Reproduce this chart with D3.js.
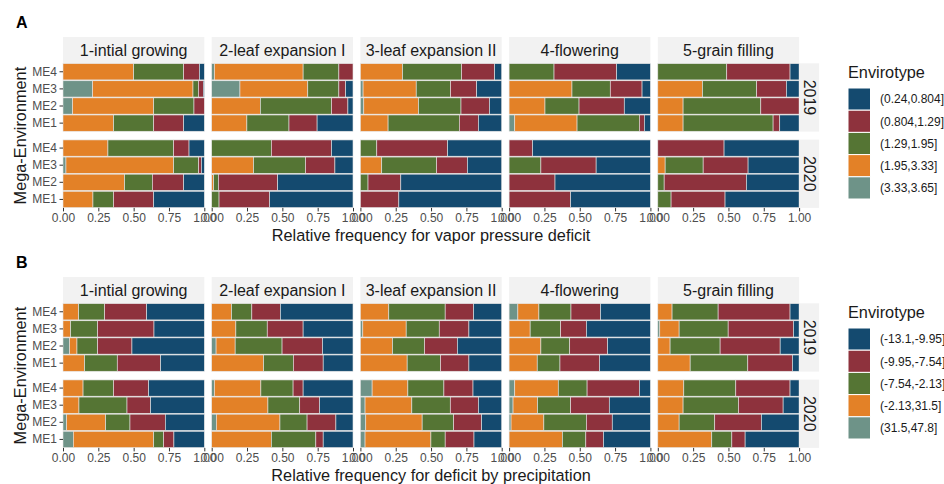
<!DOCTYPE html>
<html>
<head>
<meta charset="utf-8">
<script src="https://cdn.jsdelivr.net/npm/d3@7"></script>
<style>
  body { margin: 0; background: #fff; }
  text { font-family: "Liberation Sans", Arial, sans-serif; }
</style>
</head>
<body>
<svg id="chart" width="944" height="484"></svg>
<script>
(function () {

    const stages = ["1-intial growing", "2-leaf expansion I", "3-leaf expansion II", "4-flowering", "5-grain filling"];
    const years = ["2019", "2020"];
    const envs = ["ME1", "ME2", "ME3", "ME4"];
    const ticks = [0, 0.25, 0.5, 0.75, 1];

    // classes left -> right in each bar (legend shows them reversed)
    const vpdClasses = ["(3.33,3.65]", "(1.95,3.33]", "(1.29,1.95]", "(0.804,1.29]", "(0.24,0.804]"];
    const precClasses = ["(31.5,47.8]", "(-2.13,31.5]", "(-7.54,-2.13]", "(-9.95,-7.54]", "(-13.1,-9.95]"];
    const colors = ["#6E9388", "#E38127", "#557534", "#8E323D", "#144A6F"];

    // stage -> [ME1, ME2, ME3, ME4] -> class proportions (left to right)
    const vpd2019 = [
        [[0, .358, .284, .212, .146], [.068, .574, .285, .073, 0], [.21, .71, .038, .035, .007], [0, .50, .354, .111, .035]],
        [[0, .249, .298, .199, .254], [0, .344, .504, .116, .036], [.20, .48, .22, .048, .052], [.019, .628, .253, .10, 0]],
        [[0, .196, .504, .135, .165], [.024, .387, .301, .201, .087], [.019, .376, .243, .185, .177], [0, .298, .418, .234, .05]],
        [[.04, .441, .441, .035, .043], [0, .254, .241, .32, .185], [0, .445, .271, .225, .059], [0, 0, .318, .443, .239]],
        [[0, .179, .637, .047, .137], [0, .179, .55, .271, 0], [0, .316, .384, .21, .09], [0, 0, .488, .448, .064]]
    ];
    const vpd2020 = [
        [[0, .212, .146, .284, .358], [0, .436, .196, .222, .146], [.021, .762, .177, .019, .021], [0, .318, .465, .109, .108]],
        [[0, 0, .052, .358, .59], [0, .014, .033, .42, .533], [0, .296, .368, .208, .128], [0, 0, .422, .426, .152]],
        [[0, 0, 0, .272, .728], [0, 0, .054, .232, .714], [0, .151, .388, .218, .243], [0, 0, .116, .501, .383]],
        [[0, 0, 0, .436, .564], [0, 0, 0, .325, .675], [0, 0, .225, .391, .384], [0, 0, 0, .166, .834]],
        [[0, 0, .094, .382, .524], [0, 0, .045, .582, .373], [0, .052, .269, .318, .361], [0, 0, 0, .469, .531]]
    ];
    const prec2019 = [
        [[0, .153, .231, .307, .309], [.047, .052, .146, .243, .512], [0, .054, .191, .399, .356], [0, .111, .184, .297, .408]],
        [[0, .367, .211, .211, .211], [.031, .135, .332, .286, .216], [0, .171, .222, .254, .353], [0, .14, .144, .202, .514]],
        [[0, .331, .236, .201, .232], [0, .227, .227, .232, .314], [.017, .307, .234, .21, .232], [0, .201, .399, .201, .199]],
        [[0, .199, .161, .28, .36], [0, .225, .204, .268, .303], [0, .149, .216, .182, .453], [.062, .149, .227, .209, .353]],
        [[0, .229, .408, .316, .047], [0, .087, .354, .425, .134], [.014, .137, .347, .462, .04], [0, .101, .326, .509, .064]]
    ];
    const prec2020 = [
        [[.073, .569, .07, .073, .215], [.026, .276, .172, .25, .276], [0, .113, .34, .167, .38], [0, .142, .216, .248, .394]],
        [[0, .422, .315, .052, .211], [.033, .45, .192, .204, .121], [0, .398, .225, .14, .237], [.019, .329, .228, .071, .353]],
        [[.033, .466, .101, .204, .196], [.038, .399, .223, .198, .142], [.033, .331, .272, .199, .165], [.083, .253, .255, .206, .203]],
        [[0, .377, .166, .125, .332], [.014, .232, .301, .183, .27], [.028, .173, .235, .273, .291], [.04, .308, .204, .37, .078]],
        [[0, .382, .142, .094, .382], [0, .151, .252, .33, .267], [0, .179, .392, .316, .113], [0, .184, .368, .384, .064]]
    ];

    const svg = d3.select('#chart');

    const left = 63;
    const panelW = 141.3;
    const gapX = 7.4;
    const stripH = 26.3;
    const rowH = 68.3;
    const gapY = 8;

    const x = d3.scaleLinear().domain([0, 1]).range([0, panelW]);
    const y = d3.scaleBand().domain(["ME4", "ME3", "ME2", "ME1"]).range([0, rowH]).paddingInner(0.05).paddingOuter(0.02);
    const color = d3.scaleOrdinal().domain(d3.range(5)).range(colors);

    function drawBlock(top, letter, classes, byYear, xTitle) {
        const g = svg.append('g');

        g.append('text').attr('x', 16).attr('y', top - 9)
            .attr('font-size', 16).attr('font-weight', 'bold').text(letter);

        const rowTop = yr => top + stripH + yr * (rowH + gapY);
        const colLeft = s => left + s * (panelW + gapX);

        stages.forEach((stage, s) => {
            const cx = colLeft(s);
            g.append('rect').attr('x', cx).attr('y', top).attr('width', panelW).attr('height', stripH).attr('fill', '#F2F2F2');
            g.append('text').attr('x', cx + panelW / 2).attr('y', top + stripH / 2 + 5.5)
                .attr('text-anchor', 'middle').attr('font-size', 16).attr('fill', '#1A1A1A').text(stage);

            byYear.forEach((data, yr) => {
                const panel = g.append('g').attr('transform', `translate(${cx},${rowTop(yr)})`);
                envs.forEach((me, m) => {
                    const vals = data[s][m];
                    const ends = d3.cumsum(vals);
                    const segs = vals.map((v, k) => ({ k, x0: ends[k] - v, x1: ends[k] })).filter(d => d.x1 - d.x0 > 0);
                    panel.selectAll(null)
                        .data(segs)
                        .enter()
                        .append('rect')
                        .attr('x', d => x(d.x0))
                        .attr('width', d => x(Math.min(d.x1, 1)) - x(d.x0))
                        .attr('y', y(me))
                        .attr('height', y.bandwidth())
                        .attr('fill', d => color(d.k))
                        .attr('stroke', '#E4E4E4')
                        .attr('stroke-width', 0.6);
                });

                if (s === 0) {
                    const ya = panel.append('g').call(d3.axisLeft(y).tickSize(3.5).tickPadding(2.5));
                    ya.select('.domain').remove();
                    ya.selectAll('line').attr('stroke', '#333');
                    ya.selectAll('text').attr('font-size', 12).attr('fill', '#4D4D4D')
                        .style('font-family', '"Liberation Sans", Arial, sans-serif');
                }
                if (yr === 1) {
                    const xa = panel.append('g').attr('transform', `translate(0,${rowH})`)
                        .call(d3.axisBottom(x).tickValues(ticks).tickFormat(d3.format('.2f')).tickSize(3.5).tickPadding(2.5));
                    xa.select('.domain').remove();
                    xa.selectAll('line').attr('stroke', '#333');
                    xa.selectAll('text').attr('font-size', 12).attr('fill', '#4D4D4D')
                        .style('font-family', '"Liberation Sans", Arial, sans-serif');
                }
            });
        });

        // year strips on the right
        const sx = colLeft(4) + panelW;
        years.forEach((yrLabel, yr) => {
            g.append('rect').attr('x', sx).attr('y', rowTop(yr)).attr('width', 20).attr('height', rowH).attr('fill', '#F2F2F2');
            g.append('text')
                .attr('transform', `translate(${sx + 4.5},${rowTop(yr) + rowH / 2}) rotate(90)`)
                .attr('text-anchor', 'middle').attr('font-size', 16).attr('fill', '#1A1A1A').text(yrLabel);
        });

        const bottom = rowTop(1) + rowH;
        g.append('text').attr('x', (left + sx) / 2).attr('y', bottom + 33)
            .attr('text-anchor', 'middle').attr('font-size', 16.3).attr('fill', '#1A1A1A').text(xTitle);

        g.append('text')
            .attr('transform', `translate(26,${(rowTop(0) + bottom) / 2}) rotate(-90)`)
            .attr('text-anchor', 'middle').attr('font-size', 16.3).attr('fill', '#1A1A1A').text('Mega-Environment');

        // legend
        const lx = 848;
        const ly = top + 41;
        g.append('text').attr('x', lx).attr('y', ly).attr('font-size', 16.3).attr('fill', '#1A1A1A').text('Envirotype');
        const keyH = 22.2;
        const items = classes.map((c, k) => ({ c, k })).reverse();
        const leg = g.append('g').attr('transform', `translate(${lx},${ly + 10})`);
        leg.selectAll('rect')
            .data(items)
            .enter()
            .append('rect')
            .attr('x', 0)
            .attr('y', (d, i) => i * keyH)
            .attr('width', 22.5)
            .attr('height', keyH)
            .attr('fill', d => color(d.k))
            .attr('stroke', '#fff')
            .attr('stroke-width', 1);
        leg.selectAll('text')
            .data(items)
            .enter()
            .append('text')
            .attr('x', 32)
            .attr('y', (d, i) => i * keyH + keyH / 2 + 4.3)
            .attr('font-size', 12)
            .attr('fill', '#1A1A1A')
            .text(d => d.c);
    }

    drawBlock(37, 'A', vpdClasses, [vpd2019, vpd2020], 'Relative frequency for vapor pressure deficit');
    drawBlock(277, 'B', precClasses, [prec2019, prec2020], 'Relative frequency for deficit by precipitation');

})();
</script>
</body>
</html>
